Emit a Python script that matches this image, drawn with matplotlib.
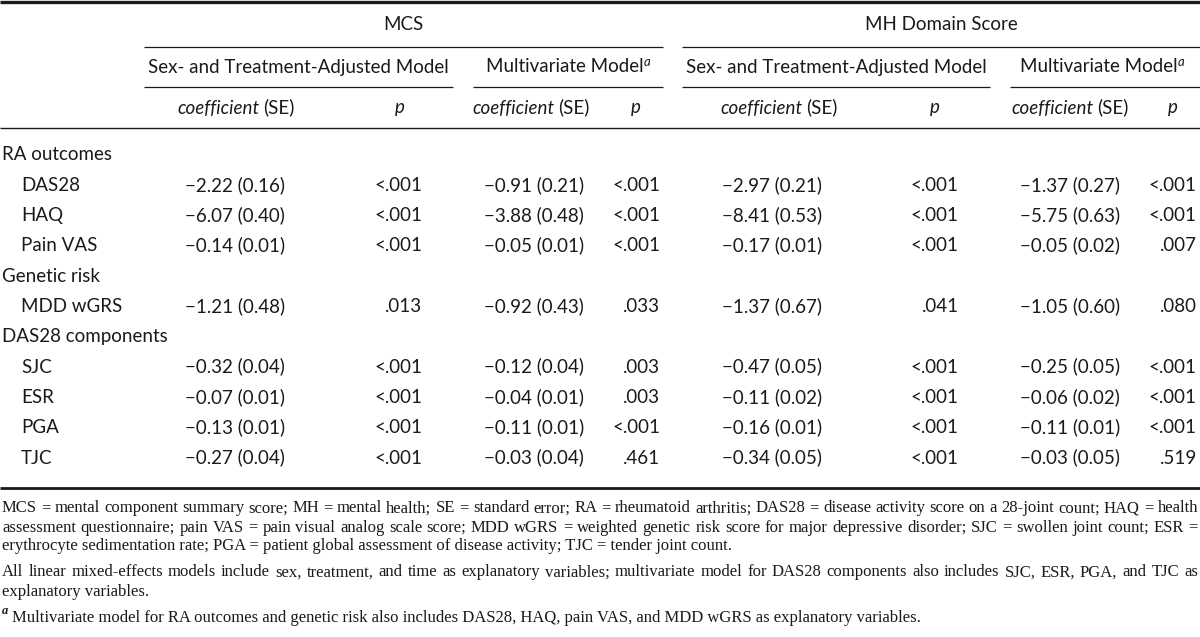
import matplotlib

matplotlib.use("Agg")
import matplotlib.pyplot as plt

# table content
row_labels = ["RA outcomes", "DAS28", "HAQ", "Pain VAS", "Genetic risk", "MDD wGRS",
              "DAS28 components", "SJC", "ESR", "PGA", "TJC"]
group_labels = ["RA outcomes", "Genetic risk", "DAS28 components"]

mcs_adj_coef = [-2.22, -6.07, -0.14, -1.21, -0.32, -0.07, -0.13, -0.27]
mcs_adj_se = [0.16, 0.40, 0.01, 0.48, 0.04, 0.01, 0.01, 0.04]
mcs_adj_p = ["<.001", "<.001", "<.001", ".013", "<.001", "<.001", "<.001", "<.001"]

mcs_mv_coef = [-0.91, -3.88, -0.05, -0.92, -0.12, -0.04, -0.11, -0.03]
mcs_mv_se = [0.21, 0.48, 0.01, 0.43, 0.04, 0.01, 0.01, 0.04]
mcs_mv_p = ["<.001", "<.001", "<.001", ".033", ".003", ".003", "<.001", ".461"]

mh_adj_coef = [-2.97, -8.41, -0.17, -1.37, -0.47, -0.11, -0.16, -0.34]
mh_adj_se = [0.21, 0.53, 0.01, 0.67, 0.05, 0.02, 0.01, 0.05]
mh_adj_p = ["<.001", "<.001", "<.001", ".041", "<.001", "<.001", "<.001", "<.001"]

mh_mv_coef = [-1.37, -5.75, -0.05, -1.05, -0.25, -0.06, -0.11, -0.03]
mh_mv_se = [0.27, 0.63, 0.02, 0.60, 0.05, 0.02, 0.01, 0.05]
mh_mv_p = ["<.001", "<.001", ".007", ".080", "<.001", "<.001", "<.001", ".519"]

outcomes = ["MCS", "MH Domain Score"]
models = ["Sex- and Treatment-Adjusted Model", "Multivariate Model"]

foot_para1 = [
    "MCS = mental component summary score; MH = mental health; SE = standard error; RA = rheumatoid arthritis; DAS28 = disease activity score on a 28-joint count; HAQ = health",
    "assessment questionnaire; pain VAS = pain visual analog scale score; MDD wGRS = weighted genetic risk score for major depressive disorder; SJC = swollen joint count; ESR =",
    "erythrocyte sedimentation rate; PGA = patient global assessment of disease activity; TJC = tender joint count.",
]
foot_para2 = [
    "All linear mixed-effects models include sex, treatment, and time as explanatory variables; multivariate model for DAS28 components also includes SJC, ESR, PGA, and TJC as",
    "explanatory variables.",
]
foot_note_a = "Multivariate model for RA outcomes and genetic risk also includes DAS28, HAQ, pain VAS, and MDD wGRS as explanatory variables."

SANS = ["Lato", "DejaVu Sans"]
SERIF = ["Liberation Serif", "DejaVu Serif"]
FS = 13.5
FOOT_FS = 12.0
INK = "#1a1a1a"
SANS_BASE = 6.5   # baseline offset below visual centre (px)
SERIF_BASE = 5.5

fig = plt.figure(figsize=(12, 6.37), dpi=100)
ax = fig.add_axes([0, 0, 1, 1])
ax.set_xlim(0, 1200)
ax.set_ylim(637, 0)
ax.axis("off")
renderer = fig.canvas.get_renderer()


def text_width(s, **kw):
    t = ax.text(0, 0, s, **kw)
    w = t.get_window_extent(renderer).width
    t.remove()
    return w


def rule(x0, x1, y, lw=0.9):
    ax.plot([x0, x1], [y, y], color=INK, lw=lw, solid_capstyle="butt")


def sans(x, y, s, ha="left", style="normal"):
    ax.text(x, y + SANS_BASE, s, family=SANS, fontsize=FS, style=style, color=INK,
            ha=ha, va="baseline")


def serif(x, y, s, **kw):
    ax.text(x, y + SERIF_BASE, s, family=SERIF, fontsize=FOOT_FS, color=INK,
            ha="left", va="baseline", **kw)


def mixed(x, y, pieces, fs=FS, family=SANS, gap_scale=0.7):
    # pieces: list of (string, style, superscript), centred on x
    space = text_width("a a", family=family, fontsize=fs) - text_width("aa", family=family, fontsize=fs)
    widths = []
    for s, style, sup in pieces:
        size = fs * 0.7 if sup else fs
        widths.append(text_width(s, family=family, fontsize=size, style=style))
    gaps = [0 if pieces[i + 1][2] else space * gap_scale for i in range(len(pieces) - 1)]
    total = sum(widths) + sum(gaps)
    cx = x - total / 2
    for i, (s, style, sup) in enumerate(pieces):
        size = fs * 0.7 if sup else fs
        yy = y + SANS_BASE - (6 if sup else 0)
        ax.text(cx, yy, s, family=family, fontsize=size, style=style, color=INK,
                ha="left", va="baseline")
        cx += widths[i] + (gaps[i] if i < len(gaps) else 0)


def justify(line, x0, x1, y, fs=FOOT_FS):
    words = line.split(" ")
    ws = [text_width(w, family=SERIF, fontsize=fs) for w in words]
    gap = (x1 - x0 - sum(ws)) / (len(words) - 1)
    cx = x0
    for w, wd in zip(words, ws):
        serif(cx, y, w)
        cx += wd + gap


# rules
rule(0, 1200, 1.5, lw=2.4)
rule(144, 663, 47)
rule(682, 1200, 47)
rule(144, 453, 87)
rule(473, 663, 87)
rule(682, 990, 87)
rule(1010, 1200, 87)
rule(0, 1200, 128, lw=1.0)
rule(0, 1200, 488, lw=2.0)

# header
sans(403, 23, outcomes[0], ha="center")
sans(941, 23, outcomes[1], ha="center")
for cx in [298, 836]:
    sans(cx, 66, models[0], ha="center")
for cx in [568, 1102]:
    mixed(cx, 66, [(models[1], "normal", False), ("a", "italic", True)])

coef_x = [235, 534, 772, 1070]
coefh_x = [236, 531, 779, 1070]
p_right = [422, 660, 959, 1197]
ph_x = [400, 636, 935, 1173]
for cx in coefh_x:
    mixed(cx, 107, [("coefficient", "italic", False), ("(SE)", "normal", False)])
for px in ph_x:
    sans(px, 107, "p", ha="center", style="italic")

# body
columns = [
    (mcs_adj_coef, mcs_adj_se, mcs_adj_p),
    (mcs_mv_coef, mcs_mv_se, mcs_mv_p),
    (mh_adj_coef, mh_adj_se, mh_adj_p),
    (mh_mv_coef, mh_mv_se, mh_mv_p),
]
y0, dy = 154, 30.3
k = 0
for i, lab in enumerate(row_labels):
    y = y0 + i * dy
    if lab in group_labels:
        sans(2, y, lab)
        continue
    sans(21, y, lab)
    for j, (coef, se, pv) in enumerate(columns):
        s = f"\u2212{abs(coef[k]):.2f} ({se[k]:.2f})"
        sans(coef_x[j], y, s, ha="center")
        sans(p_right[j], y, pv[k], ha="right")
    k += 1

# footnotes
fy = [507, 526, 545]
justify(foot_para1[0], 2, 1198, fy[0])
justify(foot_para1[1], 2, 1198, fy[1])
serif(2, fy[2], foot_para1[2])
justify(foot_para2[0], 2, 1198, 571)
serif(2, 590, foot_para2[1])
ax.text(2, 614, "a", family=SERIF, fontsize=FOOT_FS * 0.75, style="italic", weight="bold",
        color=INK, ha="left", va="baseline")
serif(12, 617, foot_note_a)

fig.savefig("out.png", dpi=100)
